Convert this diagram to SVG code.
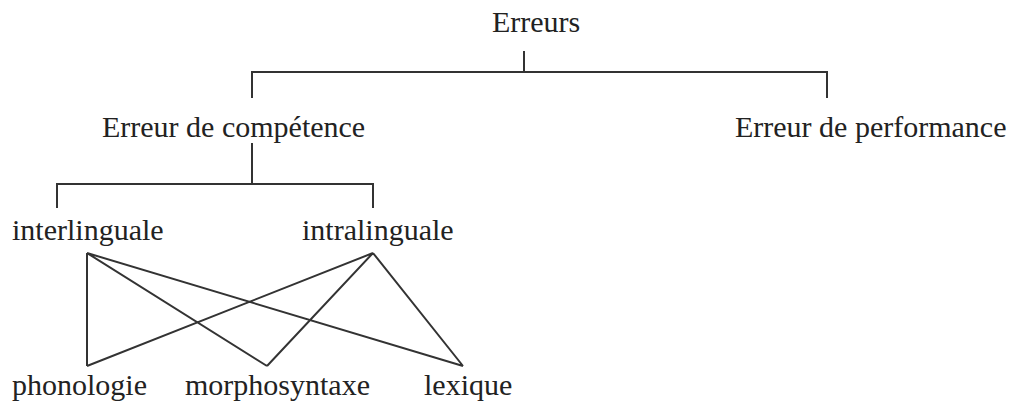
<svg xmlns="http://www.w3.org/2000/svg" width="1013" height="403" viewBox="0 0 1013 403">
<style>
.t{font-family:'Liberation Serif','Times New Roman','DejaVu Serif',serif;font-size:30px;fill:#222}
.c{fill:none;stroke:#333;stroke-width:2}
</style>
<rect width="1013" height="403" fill="#fff"/>
<g id="connectors">
<path class="c" d="M524 51V72M252 98V72H827V98"/>
<path class="c" d="M252 143V184M57 208V184H373V208"/>
<path class="c" d="M87 253V366M87 253L267 366M87 253L463 366M373 253L87 366M373 253L267 366M373 253L463 366"/>
</g>
<g id="n-erreurs"><text class="t" font-family="Liberation Serif, serif" x="492" y="32">Erreurs</text></g>
<g id="n-competence"><text class="t" font-family="Liberation Serif, serif" x="102" y="137">Erreur de compétence</text></g>
<g id="n-performance"><text class="t" font-family="Liberation Serif, serif" x="735" y="137">Erreur de performance</text></g>
<g id="n-interlinguale"><text class="t" font-family="Liberation Serif, serif" x="12" y="240">interlinguale</text></g>
<g id="n-intralinguale"><text class="t" font-family="Liberation Serif, serif" x="302" y="240">intralinguale</text></g>
<g id="n-phonologie"><text class="t" font-family="Liberation Serif, serif" x="12" y="395">phonologie</text></g>
<g id="n-morphosyntaxe"><text class="t" font-family="Liberation Serif, serif" x="185" y="395">morphosyntaxe</text></g>
<g id="n-lexique"><text class="t" font-family="Liberation Serif, serif" x="424" y="395">lexique</text></g>
</svg>
